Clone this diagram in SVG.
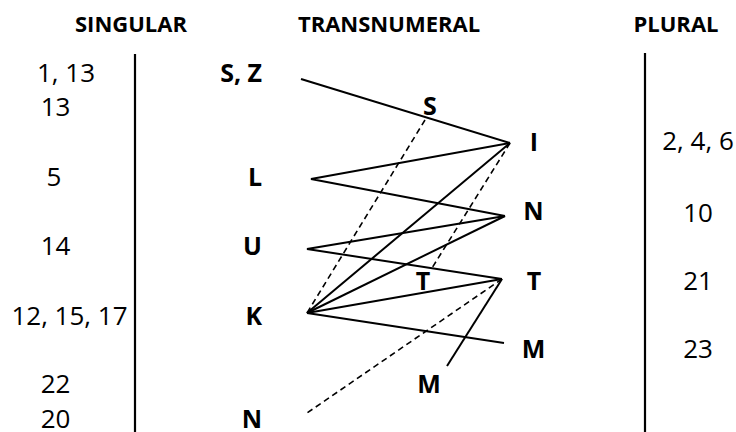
<svg xmlns="http://www.w3.org/2000/svg" width="736" height="432" viewBox="0 0 736 432">
<style>
text{font-family:"Open Sans","Liberation Sans",sans-serif;fill:#000;text-anchor:middle}
.h{font-size:22px;font-weight:bold}
.n{font-size:26px}
.b{font-size:25px;font-weight:bold}
.e{text-anchor:end}
.ax{stroke:#000;stroke-width:2.2;fill:none}
.s{stroke:#000;stroke-width:2;fill:none}
.d{stroke:#000;stroke-width:1.6;fill:none;stroke-dasharray:6 4}
</style>
<rect width="736" height="432" fill="#fff"/>
<g id="headers">
<text class="h" x="131" y="32">SINGULAR</text>
<text class="h" x="389" y="32">TRANSNUMERAL</text>
<text class="h" x="676" y="32">PLURAL</text>
</g>
<g id="axes">
<line class="ax" x1="135" y1="54" x2="135" y2="432"/>
<line class="ax" x1="645" y1="53" x2="645" y2="432"/>
</g>
<g id="singular">
<text class="n" x="66" y="82">1, 13</text>
<text class="n" x="55.5" y="116">13</text>
<text class="n" x="54" y="186">5</text>
<text class="n" x="55.5" y="255">14</text>
<text class="n" x="69.5" y="325">12, 15, 17</text>
<text class="n" x="55.5" y="393">22</text>
<text class="n" x="55.5" y="428">20</text>
</g>
<g id="node-SZ"><text class="b e" x="262" y="82">S, Z</text></g>
<g id="node-L"><text class="b e" x="262" y="186">L</text></g>
<g id="node-U"><text class="b e" x="262" y="255">U</text></g>
<g id="node-K"><text class="b e" x="262" y="325">K</text></g>
<g id="node-N-left"><text class="b e" x="262" y="428">N</text></g>
<g id="node-S-mid"><text class="b" x="430" y="115">S</text></g>
<g id="node-T-mid"><text class="b" x="423" y="290">T</text></g>
<g id="node-M-mid"><text class="b" x="429" y="393">M</text></g>
<g id="node-I"><text class="b" x="534" y="151">I</text></g>
<g id="node-N-right"><text class="b" x="533.5" y="220">N</text></g>
<g id="node-T-right"><text class="b" x="534" y="290">T</text></g>
<g id="node-M-right"><text class="b" x="533.5" y="358">M</text></g>
<g id="plural">
<text class="n" x="698" y="150">2, 4, 6</text>
<text class="n" x="698" y="222">10</text>
<text class="n" x="698" y="290">21</text>
<text class="n" x="698" y="358">23</text>
</g>
<g id="connectors">
<line class="s" x1="301" y1="79" x2="510" y2="143"/>
<polyline class="s" points="510,143 311,179 505,216"/>
<polyline class="s" points="505,216 307,249 502,279"/>
<line class="s" x1="307" y1="313" x2="510" y2="143"/>
<line class="s" x1="307" y1="313" x2="505" y2="216"/>
<line class="s" x1="307" y1="313" x2="502" y2="279"/>
<line class="s" x1="307" y1="313" x2="504" y2="343"/>
<line class="s" x1="502" y1="279" x2="447" y2="366"/>
<line class="d" x1="425" y1="120" x2="307" y2="313"/>
<line class="d" x1="510" y1="143" x2="432" y2="268"/>
<line class="d" x1="502" y1="279" x2="307" y2="413"/>
</g>
</svg>
